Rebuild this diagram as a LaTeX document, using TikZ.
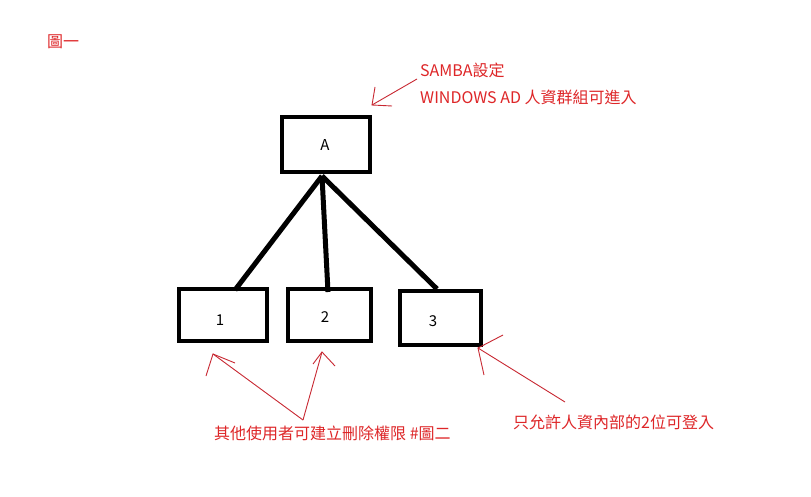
\documentclass[tikz,border=0pt]{standalone}
\usepackage{fontspec}
\setmainfont{Noto Sans CJK TC}
\definecolor{note}{RGB}{222,38,40}
\definecolor{arr}{RGB}{200,40,50}
\begin{document}
\begin{tikzpicture}[x=1pt,y=-1pt,
  box/.style={draw=black,line width=4pt,minimum width=88pt,minimum height=55pt,inner sep=0pt},
  boxlabel/.style={inner sep=0pt,font=\fontsize{15pt}{17pt}\selectfont},
  link/.style={line width=5pt,black},
  notetext/.style={text=note,anchor=west,inner sep=0pt,font=\fontsize{16pt}{19pt}\selectfont},
  pointer/.style={draw=arr,line width=0.9pt}]
\useasboundingbox[fill=white] (0,0) rectangle (811,497);
\node[box,minimum width=88pt,minimum height=55pt] (A) at (326,145) {};
\node[box,minimum width=88pt,minimum height=52pt] (b1) at (223,315) {};
\node[box,minimum width=83pt,minimum height=52pt] (b2) at (329.5,315) {};
\node[box,minimum width=81pt,minimum height=54pt] (b3) at (440.5,318) {};
\node[boxlabel] (lA) at (325,145) {A};
\node[boxlabel] (l1) at (220,320) {1};
\node[boxlabel] (l2) at (325,317) {2};
\node[boxlabel] (l3) at (433,321) {3};
\coordinate (Abot) at (322,176);
\coordinate (t1) at (235,290);
\coordinate (t2) at (328,292);
\coordinate (t3) at (437,289);
\draw[link] (Abot) -- (t1);
\draw[link] (Abot) -- (t2);
\draw[link] (Abot) -- (t3);
% texts
\node[notetext] (fig) at (47,42) {圖一};
\node[notetext] (samba) at (420,70) {SAMBA設定};
\node[notetext] (win) at (420,97) {WINDOWS AD 人資群組可進入};
\node[notetext] (others) at (214,433) {其他使用者可建立刪除權限 \#圖二};
\node[notetext] (hr) at (513,422) {只允許人資內部的2位可登入};
% pointers
\coordinate (p1s) at (417,79);
\coordinate (p1t) at (372,105);
\draw[pointer] (p1s) -- (p1t);
\draw[pointer] (375,87) -- (p1t) -- (392,106);
\coordinate (p2s) at (303,420);
\coordinate (p2t) at (213,354);
\coordinate (p3t) at (322,352);
\draw[pointer] (p2s) -- (p2t);
\draw[pointer] (206,376) -- (p2t) -- (235,363);
\draw[pointer] (p2s) -- (p3t);
\draw[pointer] (313,364) -- (p3t) -- (335,366);
\coordinate (p4s) at (565,402);
\coordinate (p4t) at (478,348);
\draw[pointer] (p4s) -- (p4t);
\draw[pointer] (503,335) -- (p4t) -- (484,375);
\end{tikzpicture}
\end{document}
